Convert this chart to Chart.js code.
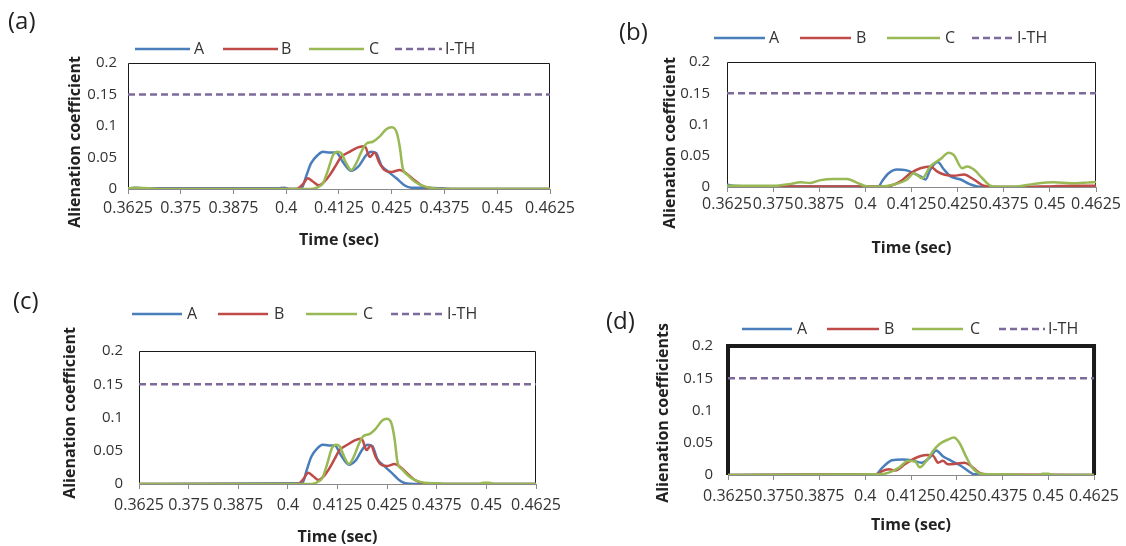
<!DOCTYPE html>
<html>
<head>
<meta charset="utf-8">
<script src="https://cdn.jsdelivr.net/npm/chart.js@4.4.1/dist/chart.umd.min.js"></script>
<style>
  html, body { margin: 0; padding: 0; background: #fff; width: 1126px; height: 546px; overflow: hidden; }
  canvas { position: absolute; left: 0; top: 0; }
</style>
</head>
<body>
<canvas id="panelA" width="1126" height="600"></canvas>
<canvas id="panelB" width="1126" height="600"></canvas>
<canvas id="panelC" width="1126" height="600"></canvas>
<canvas id="panelD" width="1126" height="600"></canvas>
<script>
// axis ticks
const timeTicks = [0.3625, 0.375, 0.3875, 0.4, 0.4125, 0.425, 0.4375, 0.45, 0.4625];
const timeTickLabels = ['0.3625', '0.375', '0.3875', '0.4', '0.4125', '0.425', '0.4375', '0.45', '0.4625'];
const yTicks = [0, 0.05, 0.1, 0.15, 0.2];
const yTickLabels = ['0', '0.05', '0.1', '0.15', '0.2'];
const seriesNames = ['A', 'B', 'C', 'I-TH'];

// threshold line
const ithTime = [0.3625, 0.4625];
const ithValue = [0.15, 0.15];

// (a)
const aTimeA = [0.3625, 0.3640, 0.3660, 0.3980, 0.3995, 0.4010, 0.4036, 0.4047, 0.4059, 0.4075, 0.4087, 0.4103, 0.4118, 0.4134, 0.4154, 0.4170, 0.4190, 0.4201, 0.4213, 0.4225, 0.4241, 0.4261, 0.4280, 0.4296, 0.4330, 0.4370, 0.4400, 0.4625];
const aValA  = [0.000, 0.002, 0.001, 0.001, 0.002, 0.000, 0.001, 0.020, 0.041, 0.054, 0.059, 0.058, 0.058, 0.043, 0.029, 0.035, 0.054, 0.059, 0.057, 0.038, 0.028, 0.017, 0.006, 0.002, 0.002, 0.001, 0.000, 0.000];
const aTimeB = [0.3625, 0.4024, 0.4040, 0.4051, 0.4063, 0.4077, 0.4091, 0.4103, 0.4118, 0.4130, 0.4150, 0.4170, 0.4186, 0.4198, 0.4209, 0.4221, 0.4233, 0.4249, 0.4269, 0.4284, 0.4304, 0.4320, 0.4336, 0.4360, 0.4625];
const aValB  = [0.000, 0.000, 0.008, 0.017, 0.012, 0.006, 0.012, 0.022, 0.038, 0.051, 0.059, 0.066, 0.068, 0.051, 0.058, 0.041, 0.030, 0.027, 0.030, 0.025, 0.014, 0.006, 0.002, 0.000, 0.000];
const aTimeC = [0.3625, 0.3650, 0.3700, 0.4060, 0.4075, 0.4087, 0.4099, 0.4111, 0.4122, 0.4130, 0.4142, 0.4154, 0.4166, 0.4178, 0.4190, 0.4205, 0.4221, 0.4237, 0.4249, 0.4261, 0.4269, 0.4276, 0.4288, 0.4304, 0.4324, 0.4344, 0.4370, 0.4625];
const aValC  = [0.001, 0.002, 0.000, 0.000, 0.003, 0.009, 0.030, 0.054, 0.059, 0.057, 0.041, 0.030, 0.041, 0.059, 0.072, 0.075, 0.083, 0.095, 0.098, 0.091, 0.067, 0.033, 0.022, 0.012, 0.005, 0.0015, 0.000, 0.000];

// (b)
const bTimeA = [0.3625, 0.3640, 0.3700, 0.4036, 0.4045, 0.4063, 0.4086, 0.4109, 0.4131, 0.4149, 0.4163, 0.4176, 0.4196, 0.4213, 0.4231, 0.4258, 0.4281, 0.4303, 0.4340, 0.4625];
const bValA  = [0.004, 0.002, 0.001, 0.001, 0.009, 0.022, 0.028, 0.027, 0.022, 0.017, 0.012, 0.028, 0.040, 0.028, 0.017, 0.012, 0.005, 0.001, 0.000, 0.000];
const bTimeB = [0.3625, 0.4059, 0.4095, 0.4122, 0.4149, 0.4176, 0.4194, 0.4213, 0.4240, 0.4267, 0.4294, 0.4321, 0.4350, 0.4420, 0.4500, 0.4560, 0.4625];
const bValB  = [0.001, 0.001, 0.009, 0.022, 0.030, 0.033, 0.025, 0.020, 0.018, 0.020, 0.012, 0.002, 0.000, 0.000, 0.001, 0.002, 0.002];
const bTimeC = [0.3625, 0.3700, 0.3752, 0.3797, 0.3824, 0.3851, 0.3878, 0.3914, 0.3950, 0.3978, 0.4005, 0.4041, 0.4077, 0.4113, 0.4131, 0.4154, 0.4176, 0.4204, 0.4226, 0.4240, 0.4262, 0.4276, 0.4294, 0.4317, 0.4339, 0.4366, 0.4411, 0.4457, 0.4511, 0.4556, 0.4600, 0.4625];
const bValC  = [0.002, 0.002, 0.002, 0.005, 0.0075, 0.0065, 0.011, 0.013, 0.013, 0.0065, 0.001, 0.001, 0.004, 0.012, 0.022, 0.014, 0.033, 0.045, 0.055, 0.051, 0.030, 0.033, 0.028, 0.014, 0.002, 0.0005, 0.001, 0.005, 0.0075, 0.006, 0.007, 0.008];

// (c)
const cTimeA = [0.3625, 0.4036, 0.4047, 0.4059, 0.4075, 0.4087, 0.4103, 0.4118, 0.4134, 0.4154, 0.4170, 0.4190, 0.4201, 0.4213, 0.4225, 0.4241, 0.4261, 0.4280, 0.4296, 0.4320, 0.4625];
const cValA  = [0.000, 0.001, 0.020, 0.041, 0.054, 0.059, 0.058, 0.058, 0.043, 0.029, 0.035, 0.054, 0.059, 0.057, 0.038, 0.028, 0.017, 0.006, 0.001, 0.000, 0.000];
const cTimeB = [0.3625, 0.4024, 0.4040, 0.4051, 0.4063, 0.4077, 0.4091, 0.4103, 0.4118, 0.4130, 0.4150, 0.4170, 0.4186, 0.4198, 0.4209, 0.4221, 0.4233, 0.4249, 0.4269, 0.4284, 0.4304, 0.4320, 0.4336, 0.4360, 0.4625];
const cValB  = [0.000, 0.000, 0.008, 0.017, 0.012, 0.006, 0.012, 0.022, 0.038, 0.051, 0.059, 0.066, 0.068, 0.051, 0.058, 0.041, 0.030, 0.027, 0.030, 0.025, 0.014, 0.006, 0.002, 0.000, 0.000];
const cTimeC = [0.3625, 0.4060, 0.4075, 0.4087, 0.4099, 0.4111, 0.4122, 0.4130, 0.4142, 0.4154, 0.4166, 0.4178, 0.4190, 0.4205, 0.4221, 0.4237, 0.4249, 0.4261, 0.4269, 0.4276, 0.4288, 0.4304, 0.4324, 0.4344, 0.4380, 0.4400, 0.4480, 0.4492, 0.4508, 0.4520, 0.4625];
const cValC  = [0.000, 0.000, 0.003, 0.009, 0.030, 0.054, 0.059, 0.057, 0.041, 0.030, 0.041, 0.059, 0.072, 0.075, 0.083, 0.095, 0.098, 0.091, 0.067, 0.033, 0.022, 0.012, 0.005, 0.002, 0.001, 0.000, 0.000, 0.002, 0.002, 0.000, 0.000];

// (d)
const dTimeA = [0.3625, 0.4028, 0.4046, 0.4073, 0.4100, 0.4127, 0.4154, 0.4176, 0.4194, 0.4212, 0.4235, 0.4262, 0.4284, 0.4298, 0.4330, 0.4370, 0.4625];
const dValA  = [0.000, 0.001, 0.011, 0.023, 0.024, 0.023, 0.019, 0.027, 0.038, 0.029, 0.022, 0.014, 0.005, 0.001, 0.001, 0.000, 0.000];
const dTimeB = [0.3625, 0.4032, 0.4046, 0.4064, 0.4082, 0.4109, 0.4136, 0.4167, 0.4185, 0.4199, 0.4212, 0.4226, 0.4248, 0.4271, 0.4289, 0.4311, 0.4325, 0.4625];
const dValB  = [0.000, 0.001, 0.006, 0.009, 0.007, 0.017, 0.026, 0.031, 0.030, 0.019, 0.022, 0.0165, 0.0175, 0.019, 0.014, 0.0036, 0.001, 0.000];
const dTimeC = [0.3625, 0.4037, 0.4064, 0.4091, 0.4118, 0.4136, 0.4149, 0.4167, 0.4185, 0.4203, 0.4226, 0.4242, 0.4257, 0.4275, 0.4293, 0.4316, 0.4370, 0.4470, 0.4485, 0.4500, 0.4515, 0.4625];
const dValC  = [0.000, 0.001, 0.0036, 0.011, 0.022, 0.021, 0.012, 0.022, 0.037, 0.048, 0.055, 0.058, 0.050, 0.029, 0.011, 0.002, 0.001, 0.000, 0.002, 0.002, 0.000, 0.000];

const colA = '#4a7ebb';
const colB = '#be4b48';
const colC = '#98b954';
const colTh = '#7d6a9a';

Chart.defaults.font.family = "'Open Sans', sans-serif";

// layout of each panel (pixels in the page)
const panels = [
  { id: 'panelA', label: '(a)', labelX: 8, labelY: 22, L: 128, R: 550, T: 63, B: 189, xPad: 5, yPad: 11, Hx: 60.6,
    yTitle: 'Alienation coefficient', yTitleX: 75, yTitleY: 142, legendY: 49,
    legendX: [[135, 190, 194], [223, 278, 281], [309, 364, 369], [395, 442, 445]], frame: 1,
    data: [[aTimeA, aValA], [aTimeB, aValB], [aTimeC, aValC]] },
  { id: 'panelB', label: '(b)', labelX: 619, labelY: 33, L: 727, R: 1096, T: 62, B: 187, xPad: 3, yPad: 17, Hx: 70.6,
    yTitle: 'Alienation coefficient', yTitleX: 670, yTitleY: 143, legendY: 38,
    legendX: [[714, 765, 769], [800, 851, 856], [887, 940, 945], [972, 1013, 1017]], frame: 1,
    data: [[bTimeA, bValA], [bTimeB, bValB], [bTimeC, bValC]] },
  { id: 'panelC', label: '(c)', labelX: 13, labelY: 302, L: 139, R: 536, T: 351, B: 484, xPad: 7, yPad: 16, Hx: 62.6,
    yTitle: 'Alienation coefficient', yTitleX: 70, yTitleY: 413, legendY: 314,
    legendX: [[132, 182, 187], [218, 268, 274], [306, 357, 363], [391, 443, 447]], frame: 1,
    data: [[cTimeA, cValA], [cTimeB, cValB], [cTimeC, cValC]] },
  { id: 'panelD', label: '(d)', labelX: 606, labelY: 322, L: 728, R: 1098, T: 346, B: 475, xPad: 7, yPad: 15, Hx: 59.6,
    yTitle: 'Alienation coefficients', yTitleX: 663, yTitleY: 413, legendY: 329,
    legendX: [[742, 792, 797], [827, 879, 884], [912, 963, 970], [999, 1045, 1048]], frame: 4,
    data: [[dTimeA, dValA], [dTimeB, dValB], [dTimeC, dValC]] }
];

function toPoints(ts, vs) {
  return ts.map((t, i) => ({ x: t, y: vs[i] }));
}

function makeDeco(p) {
  const cols = [colA, colB, colC, colTh];
  return {
    id: 'deco',
    beforeDatasetsDraw(chart) {
      const ctx = chart.ctx;
      const a = chart.chartArea;
      ctx.save();
      // bottom axis
      ctx.strokeStyle = '#8a8a8a';
      ctx.lineWidth = 1;
      ctx.beginPath();
      ctx.moveTo(a.left, a.bottom + 0.5);
      ctx.lineTo(a.right, a.bottom + 0.5);
      ctx.stroke();
      // the other three sides
      ctx.strokeStyle = '#1a1a1a';
      ctx.lineWidth = p.frame;
      const off = p.frame === 1 ? 0.5 : 0;
      ctx.beginPath();
      ctx.moveTo(a.left + off, a.bottom);
      ctx.lineTo(a.left + off, a.top + off);
      ctx.lineTo(a.right - off, a.top + off);
      ctx.lineTo(a.right - off, a.bottom);
      ctx.stroke();
      ctx.restore();
    },
    afterDraw(chart) {
      const ctx = chart.ctx;
      ctx.save();
      // panel label
      ctx.fillStyle = '#222';
      ctx.font = "24px 'Open Sans', sans-serif";
      ctx.textAlign = 'left';
      ctx.textBaseline = 'middle';
      ctx.fillText(p.label, p.labelX, p.labelY);
      // legend
      ctx.font = "16px 'Open Sans', sans-serif";
      p.legendX.forEach((lx, i) => {
        ctx.strokeStyle = cols[i];
        ctx.lineWidth = 2.5;
        ctx.setLineDash(i === 3 ? [7, 4] : []);
        ctx.beginPath();
        ctx.moveTo(lx[0], p.legendY);
        ctx.lineTo(lx[1], p.legendY);
        ctx.stroke();
        ctx.fillStyle = '#333';
        ctx.fillText(seriesNames[i], lx[2], p.legendY);
      });
      ctx.setLineDash([]);
      // y axis title
      ctx.translate(p.yTitleX, p.yTitleY);
      ctx.rotate(-Math.PI / 2);
      ctx.textAlign = 'center';
      ctx.font = "bold 16px 'Open Sans', sans-serif";
      ctx.fillStyle = '#222';
      ctx.fillText(p.yTitle, 0, 0);
      ctx.restore();
    }
  };
}

panels.forEach(p => {
  const cols = [colA, colB, colC];
  const datasets = p.data.map((d, i) => ({
    label: seriesNames[i],
    data: toPoints(d[0], d[1]),
    borderColor: cols[i],
    borderWidth: 2.5,
    order: 3 - i
  }));
  datasets.push({
    label: seriesNames[3],
    data: toPoints(ithTime, ithValue),
    borderColor: colTh,
    borderWidth: 2.5,
    borderDash: [7, 4],
    order: 0
  });

  new Chart(document.getElementById(p.id), {
    type: 'line',
    data: { datasets: datasets },
    options: {
      responsive: false,
      animation: false,
      devicePixelRatio: 1,
      layout: { padding: { left: p.L - 60, right: 1126 - p.R, top: p.T, bottom: 600 - p.B - p.Hx } },
      plugins: { legend: { display: false }, tooltip: { enabled: false } },
      elements: {
        point: { radius: 0 },
        line: { cubicInterpolationMode: 'monotone', fill: false }
      },
      scales: {
        x: {
          type: 'linear',
          min: 0.3625,
          max: 0.4625,
          afterBuildTicks: s => { s.ticks = timeTicks.map(v => ({ value: v })); },
          afterFit: s => { s.height = p.Hx; },
          ticks: {
            autoSkip: false, maxRotation: 0, minRotation: 0, padding: p.xPad,
            color: '#333', font: { size: 16 },
            callback: (v, i) => timeTickLabels[i]
          },
          grid: { drawOnChartArea: false, drawTicks: true, tickLength: 5, color: '#8a8a8a' },
          border: { display: false },
          title: { display: true, text: 'Time (sec)', color: '#222', padding: 0, font: { size: 16, weight: 'bold' } }
        },
        y: {
          min: 0,
          max: 0.2,
          afterBuildTicks: s => { s.ticks = yTicks.map(v => ({ value: v })); },
          afterFit: s => { s.width = 60; },
          ticks: {
            padding: p.yPad, color: '#333', font: { size: 15 },
            callback: (v, i) => yTickLabels[i]
          },
          grid: { display: false, drawTicks: false },
          border: { display: false }
        }
      }
    },
    plugins: [makeDeco(p)]
  });
});
</script>
</body>
</html>
